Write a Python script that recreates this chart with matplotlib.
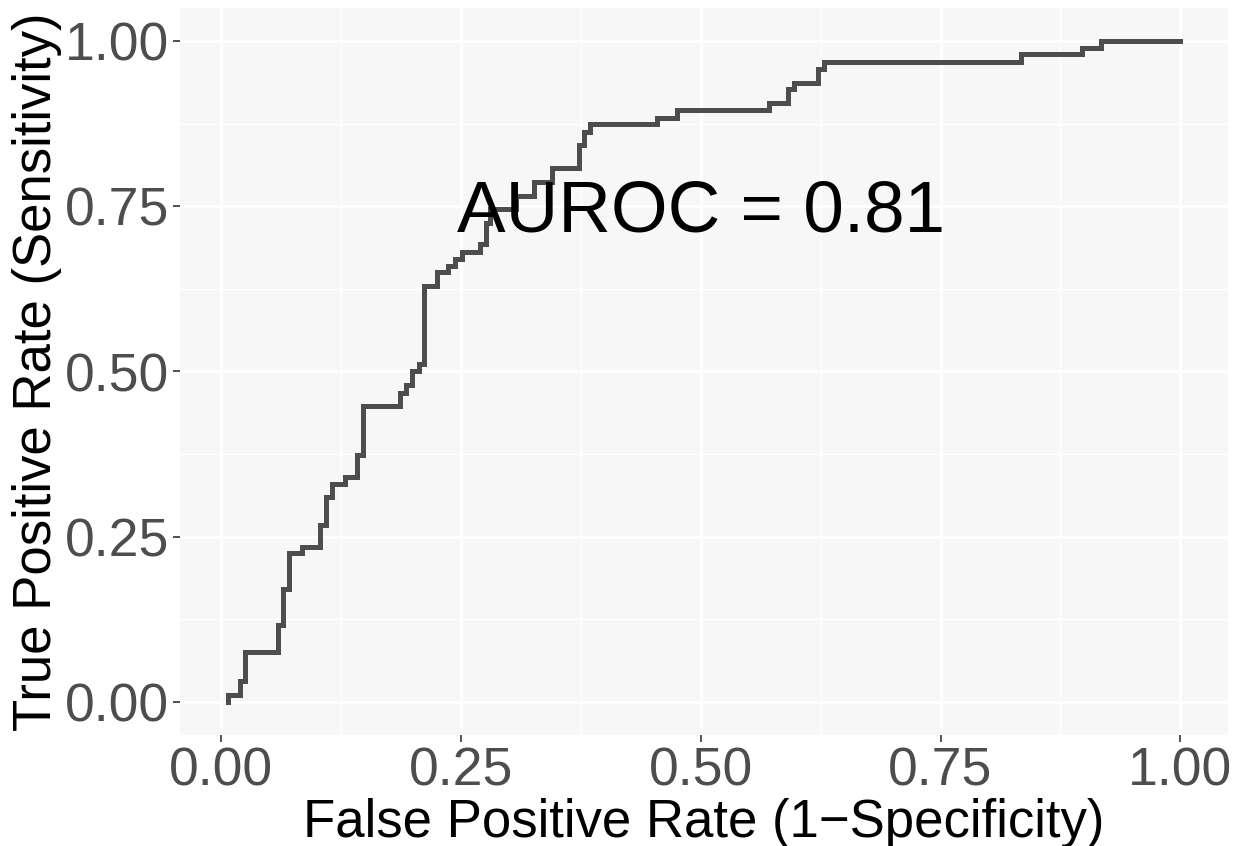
import numpy as np
import matplotlib
matplotlib.use("Agg")
import matplotlib.pyplot as plt
from matplotlib.ticker import MultipleLocator

plt.rcParams['font.family'] = ['Liberation Sans', 'DejaVu Sans']

# ROC staircase corners (x of each vertical jump, tpr after the jump)
fpr = [0.007, 0.007, 0.020, 0.025, 0.059, 0.065, 0.071, 0.084, 0.103, 0.110,
       0.116, 0.129, 0.142, 0.148, 0.187, 0.193, 0.199, 0.206, 0.212, 0.225,
       0.237, 0.244, 0.251, 0.270, 0.276, 0.280, 0.308, 0.326, 0.345, 0.373,
       0.378, 0.385, 0.455, 0.475, 0.571, 0.591, 0.597, 0.622, 0.629, 0.834,
       0.897, 0.917, 1.000]
tpr = [0.000, 0.011, 0.032, 0.075, 0.117, 0.171, 0.225, 0.234, 0.267, 0.310,
       0.330, 0.341, 0.373, 0.448, 0.468, 0.480, 0.501, 0.511, 0.629, 0.650,
       0.660, 0.670, 0.681, 0.693, 0.725, 0.746, 0.766, 0.787, 0.808, 0.842,
       0.863, 0.874, 0.883, 0.896, 0.906, 0.927, 0.937, 0.958, 0.969, 0.980,
       0.989, 1.000, 1.000]
auroc = 0.81

fig = plt.figure(figsize=(12.38, 8.46), dpi=100)
ax = fig.add_axes([180 / 1238, 1 - 735 / 846, 1048 / 1238, 727 / 846])

ax.set_facecolor('#F7F7F7')
for s in ax.spines.values():
    s.set_visible(False)

ax.plot(fpr, tpr, drawstyle='steps-post', color='#4D4D4D', lw=3.6,
        solid_joinstyle='miter', zorder=3)

ax.text(0.5, 0.74, 'AUROC = %.2f' % auroc, ha='center', va='center',
        fontsize=52.5, color='black', zorder=4)

xr = max(fpr) - min(fpr)
ax.set_xlim(min(fpr) - 0.05 * xr, max(fpr) + 0.05 * xr)
ax.set_ylim(-0.05, 1.05)

ticks = [0, 0.25, 0.5, 0.75, 1.0]
ax.set_xticks(ticks)
ax.set_yticks(ticks)
ax.set_xticklabels(['%.2f' % t for t in ticks])
ax.set_yticklabels(['%.2f' % t for t in ticks])
ax.xaxis.set_minor_locator(MultipleLocator(0.125))
ax.yaxis.set_minor_locator(MultipleLocator(0.125))

ax.grid(which='major', color='white', lw=2.0, zorder=0)
ax.grid(which='minor', color='white', lw=1.0, zorder=0)
ax.set_axisbelow(True)

ax.tick_params(which='major', length=5, width=1.2, color='#333333',
               labelsize=38.5, labelcolor='#4D4D4D', pad=3)
ax.tick_params(which='minor', length=0)

ax.set_xlabel('False Positive Rate (1\u2212Specificity)', fontsize=38,
              color='black', labelpad=1)
ax.set_ylabel('True Positive Rate (Sensitivity)', fontsize=38,
              color='black', labelpad=2)

fig.savefig('out.png', dpi=100, facecolor='white')
